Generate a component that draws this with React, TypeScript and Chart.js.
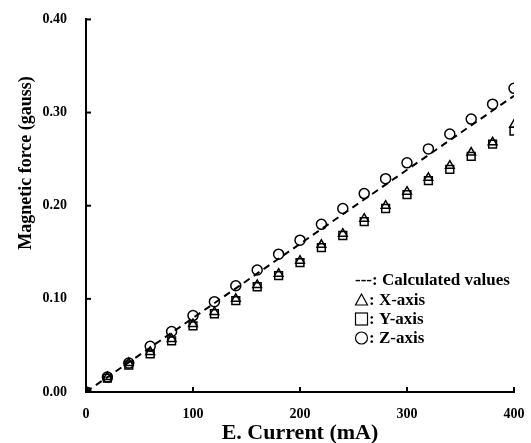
import React, { useEffect, useRef } from "react";
import { Chart, registerables } from "chart.js";

Chart.register(...registerables);

const currents = [0, 20, 40, 60, 80, 100, 120, 140, 160, 180, 200, 220, 240, 260, 280, 300, 320, 340, 360, 380, 400];
const xAxisValues = [0, 0.016, 0.031, 0.043, 0.057, 0.073, 0.086, 0.1, 0.115, 0.127, 0.141, 0.158, 0.17, 0.186, 0.2, 0.215, 0.23, 0.243, 0.257, 0.268, 0.287];
const yAxisValues = [0, 0.015, 0.029, 0.041, 0.055, 0.071, 0.084, 0.098, 0.113, 0.125, 0.139, 0.155, 0.168, 0.183, 0.197, 0.212, 0.227, 0.239, 0.253, 0.266, 0.28];
const zAxisValues = [0, 0.016, 0.031, 0.049, 0.065, 0.082, 0.097, 0.114, 0.131, 0.148, 0.163, 0.18, 0.197, 0.213, 0.229, 0.246, 0.261, 0.277, 0.293, 0.309, 0.326];
const calcCurrents = [0, 400];
const calcValues = [0, 0.318];
const xTicks = [0, 100, 200, 300, 400];
const yTicks = [0, 0.1, 0.2, 0.3, 0.4];
const legendLabels = ["---: Calculated values", ": X-axis", ": Y-axis", ": Z-axis"];
const legendSymbols = ["", "triangle", "rect", "circle"];
const xTitle = "E. Current (mA)";
const yTitle = "Magnetic force (gauss)";

const SERIF = "'Liberation Serif', 'Times New Roman', serif";

const decorPlugin = {
  id: "decor",
  afterDraw(chart: any) {
    const ctx = chart.ctx as CanvasRenderingContext2D;
    const xs = chart.scales.x;
    const ys = chart.scales.y;
    const area = chart.chartArea;
    ctx.save();
    ctx.strokeStyle = "#000";
    ctx.lineWidth = 2;
    // inward ticks
    xTicks.forEach((v) => {
      if (v === 0) return;
      const px = xs.getPixelForValue(v);
      ctx.beginPath();
      ctx.moveTo(px, area.bottom);
      ctx.lineTo(px, area.bottom - 5);
      ctx.stroke();
    });
    yTicks.forEach((v) => {
      if (v === 0) return;
      const py = ys.getPixelForValue(v);
      ctx.beginPath();
      ctx.moveTo(area.left, py);
      ctx.lineTo(area.left + 5, py);
      ctx.stroke();
    });
    ctx.fillStyle = "#000";
    // x title
    ctx.font = `bold 22px ${SERIF}`;
    ctx.textAlign = "center";
    ctx.textBaseline = "alphabetic";
    ctx.fillText(xTitle, (area.left + area.right) / 2, 439);
    // y title
    ctx.save();
    ctx.translate(31, 163);
    ctx.rotate(-Math.PI / 2);
    ctx.font = `bold 18px ${SERIF}`;
    ctx.fillText(yTitle, 0, 0);
    ctx.restore();
    // legend
    ctx.font = `bold 17px ${SERIF}`;
    ctx.textAlign = "left";
    const baselines = [285, 305, 324, 343];
    ctx.lineWidth = 1.2;
    legendLabels.forEach((t, i) => {
      const sym = legendSymbols[i];
      const by = baselines[i];
      const cy = by - 5;
      const cx = 361.5;
      if (sym === "triangle") {
        ctx.beginPath();
        ctx.moveTo(cx, cy - 6);
        ctx.lineTo(cx + 6, cy + 5);
        ctx.lineTo(cx - 6, cy + 5);
        ctx.closePath();
        ctx.stroke();
      } else if (sym === "rect") {
        ctx.strokeRect(cx - 6, cy - 6, 12, 12);
      } else if (sym === "circle") {
        ctx.beginPath();
        ctx.arc(cx, cy, 6, 0, Math.PI * 2);
        ctx.stroke();
      }
      ctx.fillText(t, sym ? 369 : 355, by);
    });
    ctx.restore();
  },
};

export default function App() {
  const ref = useRef<HTMLCanvasElement | null>(null);
  useEffect(() => {
    if (!ref.current) return;
    const pt = (vals: number[]) => currents.map((c, i) => ({ x: c, y: vals[i] }));
    const chart = new Chart(ref.current, {
      type: "scatter",
      data: {
        datasets: [
          {
            label: "Calculated values",
            type: "line",
            data: calcCurrents.map((c, i) => ({ x: c, y: calcValues[i] })),
            borderColor: "#000",
            borderWidth: 2,
            borderDash: [7, 5],
            pointRadius: 0,
            fill: false,
          } as any,
          {
            label: "X-axis",
            data: pt(xAxisValues),
            pointStyle: "triangle",
            pointRadius: 5,
            borderColor: "#000",
            backgroundColor: "rgba(255,255,255,0)",
            borderWidth: 1.5,
          },
          {
            label: "Y-axis",
            data: pt(yAxisValues),
            pointStyle: "rect",
            pointRadius: 5.5,
            borderColor: "#000",
            backgroundColor: "rgba(255,255,255,0)",
            borderWidth: 1.5,
          },
          {
            label: "Z-axis",
            data: pt(zAxisValues),
            pointStyle: "circle",
            pointRadius: 5,
            borderColor: "#000",
            backgroundColor: "rgba(255,255,255,0)",
            borderWidth: 1.5,
          },
        ],
      },
      options: {
        responsive: false,
        animation: false,
        layout: { padding: { left: 0, right: 17, top: 14, bottom: 0 } },
        plugins: { legend: { display: false }, tooltip: { enabled: false } },
        scales: {
          x: {
            type: "linear",
            min: 0,
            max: 400,
            afterFit: (s: any) => {
              s.height = 51;
            },
            afterBuildTicks: (s: any) => {
              s.ticks = xTicks.map((v) => ({ value: v }));
            },
            ticks: {
              padding: 6,
              color: "#000",
              font: { family: SERIF, weight: "bold", size: 14 },
              callback: (v: any) => String(v),
            },
            grid: { display: false },
            border: { display: true, color: "#000", width: 2 },
          },
          y: {
            type: "linear",
            min: 0,
            max: 0.4,
            afterFit: (s: any) => {
              s.width = 86;
            },
            afterBuildTicks: (s: any) => {
              s.ticks = yTicks.map((v) => ({ value: v }));
            },
            ticks: {
              padding: 11,
              color: "#000",
              font: { family: SERIF, weight: "bold", size: 14 },
              callback: (v: any) => Number(v).toFixed(2),
            },
            grid: { display: false },
            border: { display: true, color: "#000", width: 2 },
          },
        },
      },
      plugins: [decorPlugin],
    });
    return () => chart.destroy();
  }, []);
  return (
    <div style={{ position: "absolute", left: 0, top: 0, width: 531, height: 443, background: "#fff" }}>
      <canvas ref={ref} width={531} height={443} style={{ display: "block", width: 531, height: 443 }} />
    </div>
  );
}
